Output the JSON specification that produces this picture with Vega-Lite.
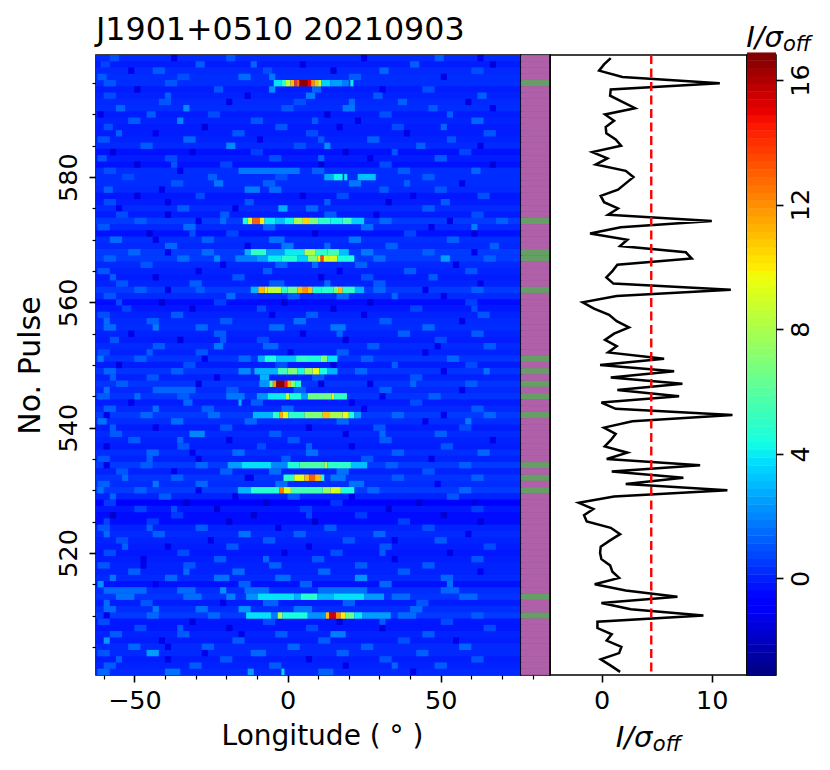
{
"$schema":"https://vega.github.io/schema/vega-lite/v6.json",
"background":"white",
"padding":{"left":14,"top":14,"right":5,"bottom":5},
"spacing":0,
"bounds":"flush",
"config":{"font":"DejaVu Sans","view":{"stroke":"black","strokeWidth":1.6},"axis":{"domain":false,"grid":false,"labelFontSize":25.5,"titleFontSize":28,"labelColor":"black","titleColor":"black","tickColor":"black","titleFontWeight":"normal"}},
"hconcat":[
{"width":425,"height":620,"view":{"fill":"#0028ff"},
"title":{"text":"J1901+0510 20210903","anchor":"start","frame":"group","fontSize":31.7,"fontWeight":"normal","color":"black","offset":8},
"resolve":{"axis":{"y":"independent"}},
"layer":[
{"data":{"values":[{"p":599,"v":0.5},{"p":598,"v":0.3},{"p":597,"v":0.5},{"p":596,"v":0.6},{"p":595,"v":0.6},{"p":594,"v":0.3},{"p":593,"v":0.4},{"p":592,"v":0.5},{"p":591,"v":0.6},{"p":590,"v":0.3},{"p":589,"v":0.4},{"p":588,"v":0.3},{"p":587,"v":0.3},{"p":586,"v":0.4},{"p":585,"v":0.5},{"p":584,"v":0.1},{"p":583,"v":0.3},{"p":582,"v":0.1},{"p":581,"v":0.6},{"p":580,"v":0.6},{"p":579,"v":0.6},{"p":578,"v":0.5},{"p":577,"v":0.2},{"p":576,"v":0.3},{"p":575,"v":0.5},{"p":574,"v":0.3},{"p":573,"v":0.8},{"p":572,"v":0.5},{"p":571,"v":0.1},{"p":570,"v":0.6},{"p":569,"v":0.5},{"p":568,"v":0.8},{"p":567,"v":0.8},{"p":566,"v":0.5},{"p":565,"v":0.4},{"p":564,"v":0.3},{"p":563,"v":0.4},{"p":562,"v":0.8},{"p":561,"v":0.5},{"p":560,"v":0.0},{"p":559,"v":0.2},{"p":558,"v":0.4},{"p":557,"v":0.5},{"p":556,"v":0.6},{"p":555,"v":0.4},{"p":554,"v":0.3},{"p":553,"v":0.5},{"p":552,"v":0.4},{"p":551,"v":0.7},{"p":550,"v":0.3},{"p":549,"v":0.7},{"p":548,"v":0.4},{"p":547,"v":0.7},{"p":546,"v":0.5},{"p":545,"v":0.7},{"p":544,"v":0.3},{"p":543,"v":0.5},{"p":542,"v":0.8},{"p":541,"v":0.6},{"p":540,"v":0.3},{"p":539,"v":0.5},{"p":538,"v":0.4},{"p":537,"v":0.3},{"p":536,"v":0.6},{"p":535,"v":0.4},{"p":534,"v":0.8},{"p":533,"v":0.4},{"p":532,"v":0.7},{"p":531,"v":0.6},{"p":530,"v":0.8},{"p":529,"v":0.4},{"p":528,"v":-0.2},{"p":527,"v":0.2},{"p":526,"v":0.0},{"p":525,"v":0.0},{"p":524,"v":0.4},{"p":523,"v":0.5},{"p":522,"v":0.4},{"p":521,"v":0.3},{"p":520,"v":0.2},{"p":519,"v":0.3},{"p":518,"v":0.4},{"p":517,"v":0.4},{"p":516,"v":0.5},{"p":515,"v":0.1},{"p":514,"v":0.6},{"p":513,"v":0.7},{"p":512,"v":0.3},{"p":511,"v":0.6},{"p":510,"v":0.8},{"p":509,"v":0.2},{"p":508,"v":0.2},{"p":507,"v":0.4},{"p":506,"v":0.3},{"p":505,"v":0.5},{"p":504,"v":0.5},{"p":503,"v":0.3},{"p":502,"v":0.4},{"p":501,"v":0.5}]},
"mark":{"type":"rule","strokeWidth":6.4},
"encoding":{
"y":{"field":"p","type":"quantitative","scale":{"domain":[500.5,599.5],"nice":false,"zero":false},"axis":null},
"color":{"field":"v","type":"quantitative","legend":null,"scale":{"domain":[-3.1,-0.6,-0.2,3.67,4.36,9.64,10.03,14.61,15.01,16.8],"range":["#000080","#0000ff","#0000ff","#00dbff","#14ffe2","#eeff08","#ffec00","#ff1200","#e80000","#800000"],"interpolate":"rgb"}}}},
{"data":{"values":[
{"p":599,"a":-58,"b":-55,"v":1.2},{"p":599,"a":-38,"b":-36,"v":-1.2},{"p":599,"a":-20,"b":-17,"v":1.3},{"p":599,"a":24,"b":26,"v":-1.1},{"p":599,"a":48,"b":51,"v":1.4},{"p":599,"a":62,"b":64,"v":-1},
{"p":598,"a":-61,"b":-58,"v":1},{"p":598,"a":-30,"b":-27,"v":1.4},{"p":598,"a":4,"b":6,"v":-1.2},{"p":598,"a":40,"b":43,"v":1.5},{"p":598,"a":66,"b":68,"v":-1.3},{"p":598,"a":-12,"b":-10,"v":1.6},
{"p":597,"a":-44,"b":-40,"v":1.4},{"p":597,"a":-8,"b":-5,"v":1.2},{"p":597,"a":14,"b":16,"v":-1.3},{"p":597,"a":30,"b":33,"v":1.6},{"p":597,"a":60,"b":64,"v":1.2},{"p":597,"a":-52,"b":-50,"v":-1},
{"p":596,"a":-62,"b":-59,"v":1.4},{"p":596,"a":-36,"b":-32,"v":1.2},{"p":596,"a":-16,"b":-12,"v":1.7},{"p":596,"a":20,"b":24,"v":1.4},{"p":596,"a":50,"b":52,"v":-1.1},{"p":596,"a":-6,"b":-4,"v":1.9},
{"p":594,"a":-50,"b":-48,"v":-1.3},{"p":594,"a":-24,"b":-21,"v":1.3},{"p":594,"a":-6,"b":-4,"v":2.4},{"p":594,"a":8,"b":11,"v":1.6},{"p":594,"a":44,"b":48,"v":1.2},{"p":594,"a":30,"b":32,"v":-1},
{"p":593,"a":-60,"b":-56,"v":1.1},{"p":593,"a":-14,"b":-12,"v":-1.1},{"p":593,"a":6,"b":9,"v":2},{"p":593,"a":28,"b":31,"v":1.4},{"p":593,"a":62,"b":65,"v":1.5},{"p":593,"a":-40,"b":-38,"v":1.5},
{"p":592,"a":-42,"b":-38,"v":1.3},{"p":592,"a":-20,"b":-18,"v":-1.2},{"p":592,"a":2,"b":6,"v":1.2},{"p":592,"a":36,"b":39,"v":1.5},{"p":592,"a":58,"b":60,"v":-1.3},{"p":592,"a":20,"b":22,"v":1.7},
{"p":591,"a":-56,"b":-53,"v":1.6},{"p":591,"a":-34,"b":-32,"v":2.3},{"p":591,"a":-2,"b":2,"v":1.3},{"p":591,"a":18,"b":22,"v":1.9},{"p":591,"a":46,"b":49,"v":1.4},{"p":591,"a":66,"b":68,"v":-1},
{"p":590,"a":-62,"b":-60,"v":-1.1},{"p":590,"a":-46,"b":-43,"v":1.4},{"p":590,"a":-26,"b":-22,"v":1.1},{"p":590,"a":12,"b":14,"v":-1.3},{"p":590,"a":30,"b":34,"v":1.2},{"p":590,"a":52,"b":54,"v":1.5},
{"p":589,"a":-52,"b":-48,"v":1.4},{"p":589,"a":-36,"b":-34,"v":2.2},{"p":589,"a":-12,"b":-8,"v":1.3},{"p":589,"a":22,"b":24,"v":-1.2},{"p":589,"a":60,"b":64,"v":1.6},{"p":589,"a":8,"b":10,"v":1.4},
{"p":588,"a":-60,"b":-57,"v":1.2},{"p":588,"a":-28,"b":-26,"v":-1.3},{"p":588,"a":-4,"b":0,"v":1.3},{"p":588,"a":16,"b":18,"v":-1.1},{"p":588,"a":34,"b":38,"v":1.1},{"p":588,"a":50,"b":52,"v":1.6},
{"p":587,"a":-44,"b":-42,"v":-1},{"p":587,"a":-18,"b":-14,"v":1.3},{"p":587,"a":6,"b":10,"v":1.1},{"p":587,"a":38,"b":40,"v":-1.2},{"p":587,"a":64,"b":68,"v":1.3},{"p":587,"a":-56,"b":-54,"v":1.5},
{"p":586,"a":-62,"b":-58,"v":1.3},{"p":586,"a":-34,"b":-30,"v":1.6},{"p":586,"a":-10,"b":-8,"v":-1},{"p":586,"a":26,"b":30,"v":1.5},{"p":586,"a":52,"b":55,"v":1.3},{"p":586,"a":10,"b":12,"v":1.4},
{"p":585,"a":-48,"b":-44,"v":1.4},{"p":585,"a":-20,"b":-17,"v":2.2},{"p":585,"a":2,"b":6,"v":1.2},{"p":585,"a":12,"b":14,"v":2.3},{"p":585,"a":42,"b":45,"v":1.5},{"p":585,"a":62,"b":64,"v":-1},
{"p":584,"a":-58,"b":-56,"v":-1.4},{"p":584,"a":-32,"b":-30,"v":-1.2},{"p":584,"a":-12,"b":-8,"v":0.9},{"p":584,"a":18,"b":20,"v":-1.4},{"p":584,"a":56,"b":60,"v":1},{"p":584,"a":34,"b":36,"v":1.3},
{"p":583,"a":-62,"b":-59,"v":1.3},{"p":583,"a":-40,"b":-36,"v":1.1},{"p":583,"a":-6,"b":-2,"v":1.2},{"p":583,"a":26,"b":28,"v":-1.1},{"p":583,"a":48,"b":52,"v":1.4},{"p":583,"a":10,"b":12,"v":1.6},
{"p":582,"a":-50,"b":-48,"v":-1.4},{"p":582,"a":-22,"b":-18,"v":1},{"p":582,"a":10,"b":12,"v":-1.3},{"p":582,"a":30,"b":34,"v":1.1},{"p":582,"a":66,"b":68,"v":-1.3},{"p":582,"a":-38,"b":-36,"v":1.3},
{"p":581,"a":-60,"b":-56,"v":1.2},{"p":581,"a":-16,"b":4,"v":1.9},{"p":581,"a":8,"b":12,"v":1.5},{"p":581,"a":36,"b":40,"v":1.4},{"p":581,"a":60,"b":63,"v":1.6},{"p":581,"a":-36,"b":-34,"v":-1},
{"p":580,"a":-54,"b":-50,"v":1.1},{"p":580,"a":-26,"b":-23,"v":1.5},{"p":580,"a":-4,"b":0,"v":1.2},{"p":580,"a":12,"b":15,"v":2.8},{"p":580,"a":15,"b":18,"v":4.2},{"p":580,"a":18.5,"b":19.5,"v":4},{"p":580,"a":22.9,"b":28.8,"v":3.2},{"p":580,"a":44,"b":48,"v":1.4},
{"p":579,"a":-38,"b":-34,"v":1.3},{"p":579,"a":-24,"b":-21,"v":1.9},{"p":579,"a":-8,"b":-4,"v":1.5},{"p":579,"a":20,"b":24,"v":1.9},{"p":579,"a":56,"b":58,"v":-1},{"p":579,"a":38,"b":40,"v":1.5},
{"p":578,"a":-60,"b":-57,"v":1.5},{"p":578,"a":-14,"b":-9,"v":2},{"p":578,"a":-6,"b":-2,"v":1.7},{"p":578,"a":30,"b":33,"v":1.4},{"p":578,"a":48,"b":52,"v":1.3},{"p":578,"a":-42,"b":-40,"v":-1},
{"p":577,"a":-50,"b":-48,"v":-1.3},{"p":577,"a":-30,"b":-27,"v":1.1},{"p":577,"a":4,"b":6,"v":-1.2},{"p":577,"a":16,"b":20,"v":1.1},{"p":577,"a":62,"b":66,"v":1.2},{"p":577,"a":40,"b":42,"v":-1},
{"p":576,"a":-60,"b":-56,"v":1.1},{"p":576,"a":-40,"b":-38,"v":-1.2},{"p":576,"a":-14,"b":-11,"v":1.3},{"p":576,"a":32,"b":34,"v":-1.3},{"p":576,"a":50,"b":53,"v":1.4},{"p":576,"a":12,"b":14,"v":1.5},
{"p":575,"a":-36,"b":-32,"v":1.4},{"p":575,"a":-18,"b":-16,"v":-1.1},{"p":575,"a":-3,"b":0,"v":2.8},{"p":575,"a":6,"b":10,"v":1.6},{"p":575,"a":44,"b":48,"v":1.4},{"p":575,"a":-56,"b":-54,"v":-1},
{"p":574,"a":-56,"b":-52,"v":1.1},{"p":574,"a":-22,"b":-19,"v":1.4},{"p":574,"a":12,"b":16,"v":1.4},{"p":574,"a":28,"b":30,"v":-1.1},{"p":574,"a":60,"b":64,"v":1.2},{"p":574,"a":-40,"b":-38,"v":-1.2},
{"p":573,"a":-50,"b":-46,"v":1.4},{"p":573,"a":-30,"b":-28,"v":-0.9},{"p":573,"a":30,"b":34,"v":1.6},{"p":573,"a":52,"b":54,"v":-1.1},{"p":573,"a":68,"b":72,"v":1.5},{"p":573,"a":-22,"b":-20,"v":1.7},
{"p":572,"a":-62,"b":-58,"v":1.3},{"p":572,"a":-34,"b":-30,"v":1.7},{"p":572,"a":-8,"b":-4,"v":1.5},{"p":572,"a":24,"b":28,"v":1.7},{"p":572,"a":46,"b":48,"v":-1},{"p":572,"a":60,"b":62,"v":2},
{"p":571,"a":-46,"b":-44,"v":-1.4},{"p":571,"a":-20,"b":-16,"v":1},{"p":571,"a":8,"b":10,"v":-1.3},{"p":571,"a":38,"b":42,"v":1},{"p":571,"a":60,"b":62,"v":-1.4},{"p":571,"a":-32,"b":-30,"v":1.2},
{"p":570,"a":-58,"b":-54,"v":1.7},{"p":570,"a":-28,"b":-24,"v":1.5},{"p":570,"a":-6,"b":-1,"v":1.8},{"p":570,"a":20,"b":24,"v":1.9},{"p":570,"a":52,"b":56,"v":1.5},{"p":570,"a":-44,"b":-42,"v":-1},
{"p":569,"a":-40,"b":-36,"v":1.6},{"p":569,"a":-14,"b":-12,"v":-1},{"p":569,"a":-2,"b":2,"v":1.9},{"p":569,"a":32,"b":36,"v":1.5},{"p":569,"a":66,"b":69,"v":1.5},{"p":569,"a":12,"b":14,"v":1.7},
{"p":568,"a":-52,"b":-48,"v":1.6},{"p":568,"a":-28,"b":-24,"v":1.7},{"p":568,"a":24,"b":28,"v":1.9},{"p":568,"a":44,"b":48,"v":1.5},{"p":568,"a":60,"b":62,"v":-0.9},{"p":568,"a":-40,"b":-38,"v":-1},
{"p":567,"a":-60,"b":-56,"v":1.5},{"p":567,"a":-36,"b":-32,"v":1.7},{"p":567,"a":28,"b":32,"v":1.7},{"p":567,"a":50,"b":53,"v":2.6},{"p":567,"a":64,"b":68,"v":1.5},{"p":567,"a":-24,"b":-22,"v":2.2},
{"p":566,"a":-48,"b":-44,"v":1.3},{"p":566,"a":-22,"b":-20,"v":-1},{"p":566,"a":-4,"b":0,"v":1.5},{"p":566,"a":22,"b":26,"v":1.5},{"p":566,"a":54,"b":56,"v":-1.1},{"p":566,"a":8,"b":10,"v":1.7},
{"p":565,"a":-62,"b":-58,"v":1.3},{"p":565,"a":-30,"b":-28,"v":-1.1},{"p":565,"a":-8,"b":-5,"v":1.4},{"p":565,"a":38,"b":42,"v":1.4},{"p":565,"a":58,"b":62,"v":1.3},{"p":565,"a":16,"b":18,"v":-1},
{"p":564,"a":-44,"b":-42,"v":-1.2},{"p":564,"a":-18,"b":-14,"v":1.3},{"p":564,"a":10,"b":12,"v":-1.2},{"p":564,"a":24,"b":28,"v":1.2},{"p":564,"a":46,"b":49,"v":1.4},{"p":564,"a":-58,"b":-56,"v":1.5},
{"p":563,"a":-56,"b":-52,"v":1.3},{"p":563,"a":-32,"b":-28,"v":1.5},{"p":563,"a":-6,"b":-1,"v":1.4},{"p":563,"a":28,"b":32,"v":1.4},{"p":563,"a":62,"b":64,"v":-1.1},{"p":563,"a":12,"b":14,"v":1.7},
{"p":562,"a":-50,"b":-46,"v":1.5},{"p":562,"a":-30,"b":-27,"v":1.4},{"p":562,"a":28,"b":32,"v":1.6},{"p":562,"a":44,"b":46,"v":-0.9},{"p":562,"a":60,"b":64,"v":1.5},{"p":562,"a":-40,"b":-38,"v":-1},
{"p":561,"a":-60,"b":-56,"v":1.3},{"p":561,"a":-20,"b":-17,"v":1.7},{"p":561,"a":0,"b":4,"v":1.4},{"p":561,"a":16,"b":20,"v":1.6},{"p":561,"a":50,"b":52,"v":-1},{"p":561,"a":34,"b":36,"v":1.6},
{"p":560,"a":-42,"b":-40,"v":-1.5},{"p":560,"a":-24,"b":-20,"v":0.9},{"p":560,"a":-2,"b":0,"v":-1.5},{"p":560,"a":26,"b":28,"v":-1.4},{"p":560,"a":58,"b":62,"v":0.9},{"p":560,"a":-56,"b":-54,"v":1.1},
{"p":559,"a":-54,"b":-51,"v":1},{"p":559,"a":-32,"b":-30,"v":-1.3},{"p":559,"a":-10,"b":-7,"v":1.1},{"p":559,"a":14,"b":16,"v":-1.3},{"p":559,"a":40,"b":44,"v":1},{"p":559,"a":60,"b":62,"v":1.2},
{"p":558,"a":-62,"b":-58,"v":1.2},{"p":558,"a":-38,"b":-34,"v":1.4},{"p":558,"a":-6,"b":-4,"v":-1},{"p":558,"a":6,"b":10,"v":1.4},{"p":558,"a":62,"b":66,"v":1.3},{"p":558,"a":24,"b":26,"v":-1},
{"p":557,"a":-46,"b":-42,"v":1.5},{"p":557,"a":-22,"b":-18,"v":1.4},{"p":557,"a":2,"b":6,"v":1.8},{"p":557,"a":30,"b":34,"v":1.4},{"p":557,"a":56,"b":58,"v":-1},{"p":557,"a":-60,"b":-58,"v":1.7},
{"p":556,"a":-60,"b":-56,"v":1.7},{"p":556,"a":-30,"b":-26,"v":1.6},{"p":556,"a":-6,"b":-1,"v":1.7},{"p":556,"a":14,"b":19,"v":1.9},{"p":556,"a":44,"b":48,"v":1.6},{"p":556,"a":-44,"b":-42,"v":2},
{"p":555,"a":-52,"b":-50,"v":-1.1},{"p":555,"a":-24,"b":-20,"v":1.4},{"p":555,"a":4,"b":6,"v":-1.1},{"p":555,"a":36,"b":40,"v":1.5},{"p":555,"a":60,"b":64,"v":1.4},{"p":555,"a":16,"b":18,"v":1.6},
{"p":554,"a":-58,"b":-55,"v":1.3},{"p":554,"a":-36,"b":-34,"v":-1.3},{"p":554,"a":-10,"b":-6,"v":1.1},{"p":554,"a":18,"b":20,"v":-1.3},{"p":554,"a":48,"b":52,"v":1.1},{"p":554,"a":-22,"b":-20,"v":1.4},
{"p":553,"a":-44,"b":-40,"v":1.4},{"p":553,"a":-24,"b":-21,"v":1.9},{"p":553,"a":-8,"b":-3,"v":1.6},{"p":553,"a":26,"b":30,"v":1.4},{"p":553,"a":64,"b":68,"v":1.4},{"p":553,"a":48,"b":50,"v":-1},
{"p":552,"a":-62,"b":-58,"v":1.1},{"p":552,"a":-30,"b":-26,"v":1.3},{"p":552,"a":0,"b":2,"v":-1},{"p":552,"a":16,"b":20,"v":1.4},{"p":552,"a":44,"b":46,"v":-1.1},{"p":552,"a":-46,"b":-44,"v":1.5},
{"p":551,"a":-50,"b":-46,"v":1.5},{"p":551,"a":-28,"b":-26,"v":-0.9},{"p":551,"a":-16,"b":-12,"v":1.6},{"p":551,"a":24,"b":28,"v":1.5},{"p":551,"a":52,"b":56,"v":1.6},{"p":551,"a":-62,"b":-60,"v":1.9},
{"p":550,"a":-56,"b":-54,"v":-1.2},{"p":550,"a":-34,"b":-30,"v":1.2},{"p":550,"a":-4,"b":0,"v":1.2},{"p":550,"a":14,"b":16,"v":-1.2},{"p":550,"a":58,"b":62,"v":1.1},{"p":550,"a":34,"b":36,"v":1.5},
{"p":549,"a":-60,"b":-56,"v":1.6},{"p":549,"a":-38,"b":-34,"v":1.5},{"p":549,"a":-16,"b":-12,"v":2.2},{"p":549,"a":22,"b":26,"v":1.6},{"p":549,"a":50,"b":52,"v":-1},{"p":549,"a":64,"b":66,"v":1.8},
{"p":548,"a":-46,"b":-42,"v":1.3},{"p":548,"a":-24,"b":-22,"v":-1},{"p":548,"a":-9,"b":-6,"v":3},{"p":548,"a":8,"b":12,"v":1.3},{"p":548,"a":40,"b":44,"v":1.3},{"p":548,"a":-58,"b":-56,"v":1.5},
{"p":547,"a":-56,"b":-52,"v":1.4},{"p":547,"a":-30,"b":-28,"v":-1.2},{"p":547,"a":10,"b":12,"v":-1.2},{"p":547,"a":26,"b":28,"v":-1.1},{"p":547,"a":58,"b":62,"v":1.4},{"p":547,"a":40,"b":42,"v":1.6},
{"p":546,"a":-44,"b":-30,"v":1.6},{"p":546,"a":-20,"b":-16,"v":1.4},{"p":546,"a":2,"b":6,"v":1.5},{"p":546,"a":30,"b":34,"v":1.5},{"p":546,"a":56,"b":58,"v":-1},{"p":546,"a":-60,"b":-58,"v":1.8},
{"p":545,"a":-62,"b":-58,"v":1.4},{"p":545,"a":-36,"b":-32,"v":1.4},{"p":545,"a":-20,"b":-14,"v":1.9},{"p":545,"a":30,"b":32,"v":-0.9},{"p":545,"a":46,"b":50,"v":1.5},{"p":545,"a":-50,"b":-48,"v":1.7},
{"p":544,"a":-52,"b":-50,"v":-1},{"p":544,"a":-34,"b":-31,"v":1.6},{"p":544,"a":-12,"b":-8,"v":1.4},{"p":544,"a":-16,"b":-15,"v":3},{"p":544,"a":40,"b":44,"v":1.1},{"p":544,"a":20,"b":22,"v":-1},
{"p":543,"a":-60,"b":-56,"v":1.5},{"p":543,"a":-28,"b":-24,"v":1.5},{"p":543,"a":-2,"b":2,"v":1.6},{"p":543,"a":24,"b":26,"v":-0.9},{"p":543,"a":60,"b":64,"v":1.4},{"p":543,"a":-44,"b":-42,"v":1.8},
{"p":542,"a":-48,"b":-44,"v":1.6},{"p":542,"a":-26,"b":-22,"v":1.7},{"p":542,"a":34,"b":38,"v":1.6},{"p":542,"a":50,"b":52,"v":-0.9},{"p":542,"a":64,"b":68,"v":1.6},{"p":542,"a":-60,"b":-58,"v":-1},
{"p":541,"a":-62,"b":-59,"v":1.8},{"p":541,"a":-38,"b":-34,"v":1.7},{"p":541,"a":-14,"b":-10,"v":1.6},{"p":541,"a":16,"b":20,"v":1.6},{"p":541,"a":44,"b":46,"v":-1},{"p":541,"a":58,"b":60,"v":2},
{"p":540,"a":-44,"b":-42,"v":-1.1},{"p":540,"a":-22,"b":-18,"v":1.3},{"p":540,"a":6,"b":8,"v":-1.2},{"p":540,"a":28,"b":32,"v":1.3},{"p":540,"a":56,"b":60,"v":1.1},{"p":540,"a":-58,"b":-56,"v":1.5},
{"p":539,"a":-58,"b":-54,"v":1.4},{"p":539,"a":-32,"b":-27,"v":2.2},{"p":539,"a":-6,"b":-2,"v":1.4},{"p":539,"a":18,"b":20,"v":-1.1},{"p":539,"a":48,"b":52,"v":1.5},{"p":539,"a":30,"b":32,"v":1.7},
{"p":538,"a":-52,"b":-48,"v":1.4},{"p":538,"a":-20,"b":-18,"v":-1.1},{"p":538,"a":0,"b":4,"v":1.3},{"p":538,"a":30,"b":34,"v":1.4},{"p":538,"a":66,"b":68,"v":-1.1},{"p":538,"a":-36,"b":-34,"v":1.6},
{"p":537,"a":-60,"b":-58,"v":-1.2},{"p":537,"a":-36,"b":-32,"v":1.3},{"p":537,"a":-10,"b":-7,"v":1.1},{"p":537,"a":20,"b":22,"v":-1.1},{"p":537,"a":50,"b":54,"v":1.3},{"p":537,"a":6,"b":8,"v":1.5},
{"p":536,"a":-46,"b":-42,"v":1.6},{"p":536,"a":-18,"b":-14,"v":1.7},{"p":536,"a":6,"b":10,"v":1.8},{"p":536,"a":34,"b":38,"v":1.5},{"p":536,"a":62,"b":66,"v":1.6},{"p":536,"a":-32,"b":-30,"v":-0.9},
{"p":535,"a":-62,"b":-58,"v":1.3},{"p":535,"a":-30,"b":-28,"v":-1},{"p":535,"a":-2,"b":1,"v":1.4},{"p":535,"a":24,"b":28,"v":1.3},{"p":535,"a":46,"b":48,"v":-1.1},{"p":535,"a":-46,"b":-44,"v":1.5},
{"p":534,"a":-48,"b":-44,"v":1.4},{"p":534,"a":-30,"b":-26,"v":1.6},{"p":534,"a":32,"b":36,"v":1.5},{"p":534,"a":56,"b":60,"v":1.5},{"p":534,"a":-60,"b":-58,"v":-1},
{"p":533,"a":-56,"b":-52,"v":1.3},{"p":533,"a":-22,"b":-18,"v":1.5},{"p":533,"a":-6,"b":-2,"v":1.7},{"p":533,"a":16,"b":20,"v":1.8},{"p":533,"a":44,"b":48,"v":1.3},{"p":533,"a":-38,"b":-36,"v":-1},
{"p":532,"a":-38,"b":-34,"v":1.5},{"p":532,"a":-14,"b":-11,"v":-1},{"p":532,"a":14,"b":19,"v":1.9},{"p":532,"a":34,"b":38,"v":1.4},{"p":532,"a":60,"b":64,"v":1.5},{"p":532,"a":-54,"b":-52,"v":1.7},
{"p":531,"a":-62,"b":-58,"v":1.5},{"p":531,"a":-30,"b":-26,"v":1.6},{"p":531,"a":-4,"b":0,"v":1.7},{"p":531,"a":20,"b":25,"v":1.8},{"p":531,"a":48,"b":50,"v":-0.8},{"p":531,"a":-44,"b":-42,"v":1.9},
{"p":530,"a":-50,"b":-46,"v":1.5},{"p":530,"a":-30,"b":-28,"v":-0.9},{"p":530,"a":26,"b":30,"v":1.6},{"p":530,"a":56,"b":60,"v":1.6},{"p":530,"a":-62,"b":-60,"v":1.8},
{"p":529,"a":-42,"b":-38,"v":1.4},{"p":529,"a":-18,"b":-16,"v":-1},{"p":529,"a":0,"b":4,"v":1.4},{"p":529,"a":20,"b":22,"v":-1.1},{"p":529,"a":52,"b":56,"v":1.3},{"p":529,"a":-58,"b":-56,"v":1.6},
{"p":528,"a":-60,"b":-56,"v":0.8},{"p":528,"a":-34,"b":-32,"v":-1.6},{"p":528,"a":-8,"b":-6,"v":-1.5},{"p":528,"a":14,"b":18,"v":0.7},{"p":528,"a":42,"b":44,"v":-1.5},{"p":528,"a":60,"b":62,"v":-1.2},
{"p":527,"a":-50,"b":-46,"v":1},{"p":527,"a":-24,"b":-22,"v":-1.4},{"p":527,"a":4,"b":8,"v":0.9},{"p":527,"a":32,"b":34,"v":-1.4},{"p":527,"a":60,"b":64,"v":0.9},{"p":527,"a":-38,"b":-36,"v":1.2},
{"p":526,"a":-58,"b":-56,"v":-1.6},{"p":526,"a":-38,"b":-34,"v":0.8},{"p":526,"a":-12,"b":-10,"v":-1.5},{"p":526,"a":22,"b":26,"v":0.8},{"p":526,"a":50,"b":52,"v":-1.5},{"p":526,"a":6,"b":8,"v":1},
{"p":525,"a":-46,"b":-42,"v":0.8},{"p":525,"a":-20,"b":-18,"v":-1.5},{"p":525,"a":8,"b":10,"v":-1.6},{"p":525,"a":36,"b":40,"v":0.9},{"p":525,"a":62,"b":64,"v":-1.4},{"p":525,"a":-60,"b":-58,"v":1},
{"p":524,"a":-62,"b":-58,"v":1.3},{"p":524,"a":-30,"b":-26,"v":1.4},{"p":524,"a":-4,"b":-2,"v":-1.1},{"p":524,"a":12,"b":16,"v":1.4},{"p":524,"a":44,"b":48,"v":1.2},{"p":524,"a":-46,"b":-44,"v":1.5},
{"p":523,"a":-44,"b":-40,"v":1.5},{"p":523,"a":-16,"b":-12,"v":1.8},{"p":523,"a":2,"b":6,"v":1.5},{"p":523,"a":28,"b":32,"v":1.6},{"p":523,"a":58,"b":60,"v":-0.9},{"p":523,"a":-60,"b":-58,"v":1.7},
{"p":522,"a":-56,"b":-52,"v":1.2},{"p":522,"a":-26,"b":-24,"v":-1.1},{"p":522,"a":-8,"b":-4,"v":1.4},{"p":522,"a":18,"b":22,"v":1.3},{"p":522,"a":48,"b":52,"v":1.4},{"p":522,"a":34,"b":36,"v":-1},
{"p":521,"a":-40,"b":-38,"v":-1.1},{"p":521,"a":-20,"b":-16,"v":1.3},{"p":521,"a":6,"b":8,"v":-1.2},{"p":521,"a":30,"b":34,"v":1.3},{"p":521,"a":64,"b":68,"v":1.1},{"p":521,"a":-54,"b":-52,"v":1.5},
{"p":520,"a":-60,"b":-56,"v":1.1},{"p":520,"a":-36,"b":-32,"v":1.1},{"p":520,"a":-2,"b":0,"v":-1.2},{"p":520,"a":14,"b":18,"v":1.2},{"p":520,"a":52,"b":54,"v":-1.2},{"p":520,"a":30,"b":32,"v":1.4},
{"p":519,"a":-48,"b":-46,"v":-1.1},{"p":519,"a":-24,"b":-20,"v":1.4},{"p":519,"a":8,"b":12,"v":1.3},{"p":519,"a":34,"b":36,"v":-1.1},{"p":519,"a":60,"b":64,"v":1.3},{"p":519,"a":-8,"b":-6,"v":1.6},
{"p":518,"a":-62,"b":-58,"v":1.3},{"p":518,"a":-34,"b":-30,"v":1.3},{"p":518,"a":-6,"b":-2,"v":1.5},{"p":518,"a":22,"b":26,"v":1.4},{"p":518,"a":44,"b":48,"v":1.4},{"p":518,"a":-48,"b":-46,"v":-1},
{"p":517,"a":-52,"b":-48,"v":1.5},{"p":517,"a":-18,"b":-14,"v":1.7},{"p":517,"a":10,"b":14,"v":1.6},{"p":517,"a":36,"b":40,"v":1.4},{"p":517,"a":62,"b":64,"v":-0.9},{"p":517,"a":-34,"b":-32,"v":1.7},
{"p":516,"a":-40,"b":-36,"v":1.6},{"p":516,"a":-24,"b":-19,"v":1.8},{"p":516,"a":-4,"b":1,"v":1.7},{"p":516,"a":22,"b":26,"v":2.4},{"p":516,"a":50,"b":54,"v":1.6},{"p":516,"a":-58,"b":-56,"v":1.9},
{"p":515,"a":-62,"b":-60,"v":2.4},{"p":515,"a":-44,"b":-42,"v":-0.9},{"p":515,"a":-16,"b":-12,"v":1.5},{"p":515,"a":4,"b":8,"v":1.5},{"p":515,"a":30,"b":34,"v":1.6},{"p":515,"a":52,"b":54,"v":1.8},
{"p":514,"a":-60,"b":-46,"v":1.7},{"p":514,"a":-36,"b":-30,"v":1.7},{"p":514,"a":-14,"b":-6,"v":1.8},{"p":514,"a":10,"b":26,"v":1.8},{"p":514,"a":50,"b":56,"v":1.6},{"p":514,"a":-22,"b":-20,"v":2.4},
{"p":513,"a":-56,"b":-50,"v":1.8},{"p":513,"a":-34,"b":-28,"v":1.7},{"p":513,"a":34,"b":40,"v":1.7},{"p":513,"a":56,"b":62,"v":1.6},{"p":513,"a":-20,"b":-17,"v":2},
{"p":512,"a":-48,"b":-44,"v":1.3},{"p":512,"a":-22,"b":-20,"v":-1},{"p":512,"a":-8,"b":-3,"v":1.5},{"p":512,"a":18,"b":22,"v":1.5},{"p":512,"a":42,"b":46,"v":1.3},{"p":512,"a":-60,"b":-58,"v":1.7},
{"p":511,"a":-60,"b":-56,"v":1.7},{"p":511,"a":-30,"b":-26,"v":1.8},{"p":511,"a":-16,"b":-12,"v":2.4},{"p":511,"a":2,"b":8,"v":1.9},{"p":511,"a":40,"b":44,"v":1.7},{"p":511,"a":-44,"b":-42,"v":2},
{"p":510,"a":-46,"b":-42,"v":1.6},{"p":510,"a":-26,"b":-22,"v":1.6},{"p":510,"a":36,"b":42,"v":1.7},{"p":510,"a":60,"b":64,"v":1.4},{"p":510,"a":-60,"b":-58,"v":-1},
{"p":509,"a":-62,"b":-58,"v":1.1},{"p":509,"a":-32,"b":-30,"v":-1.3},{"p":509,"a":-8,"b":-4,"v":1.1},{"p":509,"a":16,"b":18,"v":-1.2},{"p":509,"a":50,"b":54,"v":1.1},{"p":509,"a":30,"b":32,"v":1.4},
{"p":508,"a":-50,"b":-46,"v":1.1},{"p":508,"a":-20,"b":-18,"v":-1.2},{"p":508,"a":6,"b":10,"v":1.1},{"p":508,"a":30,"b":32,"v":-1.3},{"p":508,"a":64,"b":68,"v":1.1},{"p":508,"a":-36,"b":-34,"v":1.4},
{"p":507,"a":-58,"b":-54,"v":1.4},{"p":507,"a":-36,"b":-32,"v":1.4},{"p":507,"a":-4,"b":0,"v":1.4},{"p":507,"a":14,"b":19,"v":2},{"p":507,"a":44,"b":48,"v":1.4},{"p":507,"a":-16,"b":-14,"v":-1},
{"p":506,"a":-60,"b":-58,"v":2.5},{"p":506,"a":-42,"b":-40,"v":-1},{"p":506,"a":-18,"b":-14,"v":1.4},{"p":506,"a":10,"b":14,"v":1.4},{"p":506,"a":36,"b":40,"v":1.2},{"p":506,"a":54,"b":56,"v":-1},
{"p":505,"a":-52,"b":-48,"v":1.6},{"p":505,"a":-28,"b":-24,"v":1.5},{"p":505,"a":0,"b":4,"v":1.6},{"p":505,"a":24,"b":28,"v":1.5},{"p":505,"a":56,"b":60,"v":1.6},{"p":505,"a":-40,"b":-38,"v":-1},
{"p":504,"a":-62,"b":-58,"v":1.3},{"p":504,"a":-46,"b":-42,"v":2.6},{"p":504,"a":-12,"b":-7,"v":1.6},{"p":504,"a":16,"b":20,"v":1.5},{"p":504,"a":42,"b":46,"v":1.5},{"p":504,"a":-28,"b":-26,"v":-1},
{"p":503,"a":-40,"b":-38,"v":-1.1},{"p":503,"a":-22,"b":-18,"v":1.3},{"p":503,"a":6,"b":8,"v":-1.2},{"p":503,"a":30,"b":34,"v":1.3},{"p":503,"a":60,"b":64,"v":1.3},{"p":503,"a":-56,"b":-54,"v":1.5},
{"p":502,"a":-60,"b":-56,"v":1.4},{"p":502,"a":-32,"b":-28,"v":1.4},{"p":502,"a":-6,"b":-2,"v":1.4},{"p":502,"a":18,"b":20,"v":-1.1},{"p":502,"a":48,"b":52,"v":1.4},{"p":502,"a":34,"b":36,"v":1.6},
{"p":501,"a":-62,"b":-58,"v":1.6},{"p":501,"a":-40,"b":-35,"v":1.8},{"p":501,"a":-13,"b":-11,"v":2.6},{"p":501,"a":-2,"b":-1,"v":3.6},{"p":501,"a":10,"b":15,"v":1.5},{"p":501,"a":40,"b":42,"v":-1},
{"p":595,"a":-60,"b":-56,"v":1.3},{"p":595,"a":-40,"b":-36,"v":1.3},{"p":595,"a":-4.5,"b":-2,"v":3.8},{"p":595,"a":-2,"b":-0.5,"v":5},{"p":595,"a":-0.5,"b":1,"v":8.5},{"p":595,"a":1,"b":2.2,"v":11},{"p":595,"a":2.2,"b":3,"v":14},{"p":595,"a":3,"b":3.9,"v":13},{"p":595,"a":3.9,"b":6.6,"v":16.5},{"p":595,"a":6.6,"b":7.7,"v":15},{"p":595,"a":7.7,"b":8.8,"v":12},{"p":595,"a":8.8,"b":10,"v":11},{"p":595,"a":10,"b":11,"v":9},{"p":595,"a":11,"b":14,"v":3.5},{"p":595,"a":14,"b":18,"v":2.6},{"p":595,"a":18,"b":20,"v":2},{"p":595,"a":20.5,"b":21.5,"v":4},
{"p":573,"a":-14.6,"b":-13,"v":4.5},{"p":573,"a":-13,"b":-11.5,"v":9},{"p":573,"a":-11.5,"b":-9,"v":13},{"p":573,"a":-9,"b":-7.5,"v":10},{"p":573,"a":-7.5,"b":-4,"v":4},{"p":573,"a":-4,"b":-1,"v":3.2},{"p":573,"a":-1,"b":2,"v":4.2},{"p":573,"a":2,"b":5,"v":8},{"p":573,"a":5,"b":7,"v":10.5},{"p":573,"a":7,"b":10,"v":7},{"p":573,"a":10,"b":14,"v":5},{"p":573,"a":14,"b":18,"v":4.3},{"p":573,"a":18,"b":21,"v":5.5},{"p":573,"a":21,"b":25,"v":3.5},
{"p":568,"a":-14,"b":-12,"v":3},{"p":568,"a":-12,"b":-7,"v":5},{"p":568,"a":-7,"b":-1,"v":2.6},{"p":568,"a":-1,"b":5.5,"v":4},{"p":568,"a":5.5,"b":9,"v":8},{"p":568,"a":9,"b":13,"v":5},{"p":568,"a":13,"b":17,"v":5.5},{"p":568,"a":17,"b":20,"v":3.2},
{"p":567,"a":-17,"b":-10,"v":2},{"p":567,"a":-10,"b":-6.5,"v":2.6},{"p":567,"a":-6.5,"b":-2,"v":4},{"p":567,"a":-2,"b":3.3,"v":4.8},{"p":567,"a":3.3,"b":6.6,"v":3.5},{"p":567,"a":6.6,"b":9.8,"v":7},{"p":567,"a":9.8,"b":10.8,"v":10},{"p":567,"a":10.8,"b":11.8,"v":13.5},{"p":567,"a":11.8,"b":16.3,"v":9},{"p":567,"a":16.3,"b":21.8,"v":4.5},
{"p":562,"a":-12,"b":-9.5,"v":3},{"p":562,"a":-9.5,"b":-7.5,"v":11},{"p":562,"a":-7.5,"b":-6.5,"v":10},{"p":562,"a":-6.5,"b":-2,"v":8.5},{"p":562,"a":-2,"b":0,"v":5},{"p":562,"a":0,"b":3.3,"v":6.5},{"p":562,"a":3.3,"b":5,"v":11},{"p":562,"a":5,"b":6.5,"v":12},{"p":562,"a":6.5,"b":8.2,"v":11},{"p":562,"a":8.2,"b":11,"v":4.5},{"p":562,"a":11,"b":15,"v":4.8},{"p":562,"a":15,"b":16.5,"v":7},{"p":562,"a":16.5,"b":18,"v":11},{"p":562,"a":18,"b":22,"v":5},{"p":562,"a":22,"b":25,"v":3},
{"p":551,"a":-9.7,"b":-7.5,"v":2.8},{"p":551,"a":-7.5,"b":-3.7,"v":4.5},{"p":551,"a":-3.7,"b":2.8,"v":3.3},{"p":551,"a":2.8,"b":7,"v":5},{"p":551,"a":7,"b":10.9,"v":4.5},{"p":551,"a":10.9,"b":13,"v":7},{"p":551,"a":13,"b":16.3,"v":3.8},
{"p":549,"a":-10.8,"b":-3.2,"v":3},{"p":549,"a":-3.2,"b":0,"v":5.5},{"p":549,"a":0,"b":3.3,"v":7},{"p":549,"a":3.3,"b":5.5,"v":4.5},{"p":549,"a":5.5,"b":8.2,"v":7.5},{"p":549,"a":8.2,"b":10.4,"v":9.5},{"p":549,"a":10.4,"b":12.9,"v":4.5},{"p":549,"a":12.9,"b":16.3,"v":3},
{"p":547,"a":-9.2,"b":-5.9,"v":2.4},{"p":547,"a":-5.9,"b":-4.8,"v":6.5},{"p":547,"a":-4.8,"b":-3.7,"v":12},{"p":547,"a":-3.7,"b":-1,"v":16.5},{"p":547,"a":-1,"b":0,"v":14.5},{"p":547,"a":0,"b":1.1,"v":11},{"p":547,"a":1.1,"b":2.5,"v":7},{"p":547,"a":2.5,"b":4.4,"v":4.5},
{"p":545,"a":-10,"b":-6.5,"v":2.4},{"p":545,"a":-6.5,"b":-0.5,"v":4},{"p":545,"a":-0.5,"b":0.6,"v":8.5},{"p":545,"a":0.6,"b":4.4,"v":4.5},{"p":545,"a":4.4,"b":6.6,"v":2.6},{"p":545,"a":6.6,"b":14.4,"v":6.5},{"p":545,"a":14.4,"b":15.2,"v":10},{"p":545,"a":15.2,"b":19.4,"v":5},
{"p":542,"a":-11.3,"b":-4.8,"v":3},{"p":542,"a":-4.8,"b":-2.7,"v":5},{"p":542,"a":-2.7,"b":-1.5,"v":11.5},{"p":542,"a":-1.5,"b":0.3,"v":9.5},{"p":542,"a":0.3,"b":5.5,"v":5},{"p":542,"a":5.5,"b":11.5,"v":7},{"p":542,"a":11.5,"b":13.6,"v":11},{"p":542,"a":13.6,"b":18,"v":8},{"p":542,"a":18,"b":20,"v":9.5},{"p":542,"a":20,"b":21.8,"v":4.5},{"p":542,"a":21.8,"b":24,"v":2.6},
{"p":534,"a":-19.5,"b":-15,"v":2.6},{"p":534,"a":-15,"b":-5.4,"v":3.8},{"p":534,"a":-5.4,"b":0,"v":2.2},{"p":534,"a":0,"b":3.9,"v":4.6},{"p":534,"a":3.9,"b":12,"v":5.8},{"p":534,"a":12,"b":13,"v":8},{"p":534,"a":13,"b":20.7,"v":5},{"p":534,"a":20.7,"b":26,"v":3.2},
{"p":532,"a":-1.3,"b":2.2,"v":5},{"p":532,"a":2.2,"b":5.5,"v":9.5},{"p":532,"a":5.5,"b":7.1,"v":11},{"p":532,"a":7.1,"b":9,"v":13},{"p":532,"a":9,"b":10.9,"v":11},{"p":532,"a":10.9,"b":12,"v":4.5},
{"p":530,"a":-16.2,"b":-11.9,"v":3},{"p":530,"a":-11.9,"b":-2.7,"v":4.8},{"p":530,"a":-2.7,"b":-1.2,"v":12.5},{"p":530,"a":-1.2,"b":1.1,"v":9},{"p":530,"a":1.1,"b":11.5,"v":5.5},{"p":530,"a":11.5,"b":14,"v":7.5},{"p":530,"a":14,"b":17.4,"v":9},{"p":530,"a":17.4,"b":21.8,"v":4.5},
{"p":513,"a":-13.5,"b":-9.7,"v":2.4},{"p":513,"a":-9.7,"b":2.2,"v":3.8},{"p":513,"a":2.2,"b":4.4,"v":3},{"p":513,"a":4.4,"b":9.8,"v":4.8},{"p":513,"a":9.8,"b":15,"v":3},{"p":513,"a":15,"b":25,"v":3.8},{"p":513,"a":25,"b":31.5,"v":2.5},
{"p":510,"a":-13.5,"b":-5.4,"v":3.8},{"p":510,"a":-5.4,"b":-3.2,"v":2},{"p":510,"a":-3.2,"b":-1.6,"v":8},{"p":510,"a":-1.6,"b":6.6,"v":4.5},{"p":510,"a":6.6,"b":12.5,"v":2.4},{"p":510,"a":12.5,"b":13.6,"v":11},{"p":510,"a":13.6,"b":15.8,"v":15.5},{"p":510,"a":15.8,"b":17.4,"v":12},{"p":510,"a":17.4,"b":19,"v":10},{"p":510,"a":19,"b":21.8,"v":6.5},{"p":510,"a":21.8,"b":24.5,"v":4},{"p":510,"a":24.5,"b":33.7,"v":2.6}
]},
"mark":{"type":"rule","strokeWidth":6.4},
"encoding":{
"x":{"field":"a","type":"quantitative","title":"Longitude ( ° )","scale":{"domain":[-62.5,76.2],"nice":false,"zero":false},
"axis":{"values":[-60,-50,-40,-30,-20,-10,0,10,20,30,40,50,60,70],"labelExpr":"datum.value % 50 === 0 ? datum.label : ''","labelOverlap":false,"tickSize":{"condition":{"test":"datum.value % 50 === 0","value":7},"value":4},"tickWidth":{"condition":{"test":"datum.value % 50 === 0","value":1.6},"value":1.2},"labelPadding":6,"titlePadding":9,"titleX":226}},
"x2":{"field":"b"},
"y":{"field":"p","type":"quantitative","title":"No. Pulse","scale":{"domain":[500.5,599.5],"nice":false,"zero":false},
"axis":{"orient":"left","values":[505,510,515,520,525,530,535,540,545,550,555,560,565,570,575,580,585,590,595],"labelExpr":"datum.value % 20 === 0 ? datum.label : ''","labelOverlap":false,"labelAngle":-90,"labelAlign":"center","labelBaseline":"bottom","tickSize":{"condition":{"test":"datum.value % 20 === 0","value":7},"value":4},"tickWidth":{"condition":{"test":"datum.value % 20 === 0","value":1.6},"value":1.2},"labelPadding":8,"titleFontSize":30,"titleBaseline":"alphabetic","titleX":-57,"format":"d"}},
"color":{"field":"v","type":"quantitative","legend":null,"scale":{"domain":[-3.1,-0.6,-0.2,3.67,4.36,9.64,10.03,14.61,15.01,16.8],"range":["#000080","#0000ff","#0000ff","#00dbff","#14ffe2","#eeff08","#ffec00","#ff1200","#e80000","#800000"],"interpolate":"rgb"}}}}
]},
{"width":29,"height":620,"view":{"fill":"#a0589a"},
"layer":[
{"data":{"values":[{"p":599,"s":"off"},{"p":598,"s":"off"},{"p":597,"s":"off"},{"p":596,"s":"off"},{"p":595,"s":"on"},{"p":594,"s":"off"},{"p":593,"s":"off"},{"p":592,"s":"off"},{"p":591,"s":"off"},{"p":590,"s":"off"},{"p":589,"s":"off"},{"p":588,"s":"off"},{"p":587,"s":"off"},{"p":586,"s":"off"},{"p":585,"s":"off"},{"p":584,"s":"off"},{"p":583,"s":"off"},{"p":582,"s":"off"},{"p":581,"s":"off"},{"p":580,"s":"off"},{"p":579,"s":"off"},{"p":578,"s":"off"},{"p":577,"s":"off"},{"p":576,"s":"off"},{"p":575,"s":"off"},{"p":574,"s":"off"},{"p":573,"s":"on"},{"p":572,"s":"off"},{"p":571,"s":"off"},{"p":570,"s":"off"},{"p":569,"s":"off"},{"p":568,"s":"on"},{"p":567,"s":"on"},{"p":566,"s":"off"},{"p":565,"s":"off"},{"p":564,"s":"off"},{"p":563,"s":"off"},{"p":562,"s":"on"},{"p":561,"s":"off"},{"p":560,"s":"off"},{"p":559,"s":"off"},{"p":558,"s":"off"},{"p":557,"s":"off"},{"p":556,"s":"off"},{"p":555,"s":"off"},{"p":554,"s":"off"},{"p":553,"s":"off"},{"p":552,"s":"off"},{"p":551,"s":"on"},{"p":550,"s":"off"},{"p":549,"s":"on"},{"p":548,"s":"off"},{"p":547,"s":"on"},{"p":546,"s":"off"},{"p":545,"s":"on"},{"p":544,"s":"off"},{"p":543,"s":"off"},{"p":542,"s":"on"},{"p":541,"s":"off"},{"p":540,"s":"off"},{"p":539,"s":"off"},{"p":538,"s":"off"},{"p":537,"s":"off"},{"p":536,"s":"off"},{"p":535,"s":"off"},{"p":534,"s":"on"},{"p":533,"s":"off"},{"p":532,"s":"on"},{"p":531,"s":"off"},{"p":530,"s":"on"},{"p":529,"s":"off"},{"p":528,"s":"off"},{"p":527,"s":"off"},{"p":526,"s":"off"},{"p":525,"s":"off"},{"p":524,"s":"off"},{"p":523,"s":"off"},{"p":522,"s":"off"},{"p":521,"s":"off"},{"p":520,"s":"off"},{"p":519,"s":"off"},{"p":518,"s":"off"},{"p":517,"s":"off"},{"p":516,"s":"off"},{"p":515,"s":"off"},{"p":514,"s":"off"},{"p":513,"s":"on"},{"p":512,"s":"off"},{"p":511,"s":"off"},{"p":510,"s":"on"},{"p":509,"s":"off"},{"p":508,"s":"off"},{"p":507,"s":"off"},{"p":506,"s":"off"},{"p":505,"s":"off"},{"p":504,"s":"off"},{"p":503,"s":"off"},{"p":502,"s":"off"},{"p":501,"s":"off"}]},
"mark":{"type":"rule","strokeWidth":6.05},
"encoding":{
"y":{"field":"p","type":"quantitative","scale":{"domain":[500.5,599.5],"nice":false,"zero":false},"axis":null},
"color":{"field":"s","type":"nominal","legend":null,"scale":{"domain":["off","on"],"range":["#b060a9","#669f66"]}}}},
{"data":{"values":[{"t":80}]},
"mark":{"type":"rule","opacity":0},
"encoding":{"x":{"field":"t","type":"quantitative","title":null,"scale":{"domain":[76.2,85.6],"nice":false,"zero":false},"axis":{"values":[80],"labels":false,"tickSize":4,"tickWidth":1.2}}}}
]},
{"width":197,"height":620,
"layer":[
{"data":{"values":[{"p":599,"v":0.82},{"p":598,"v":0.21},{"p":597,"v":-0.24},{"p":596,"v":1.88},{"p":595,"v":10.73},{"p":594,"v":0.82},{"p":593,"v":0.76},{"p":592,"v":1.88},{"p":591,"v":3.03},{"p":590,"v":0.3},{"p":589,"v":1.12},{"p":588,"v":0.36},{"p":587,"v":0.42},{"p":586,"v":1.27},{"p":585,"v":1.76},{"p":584,"v":-0.85},{"p":583,"v":0.52},{"p":582,"v":-0.55},{"p":581,"v":2.18},{"p":580,"v":2.88},{"p":579,"v":2.18},{"p":578,"v":1.48},{"p":577,"v":-0.09},{"p":576,"v":0.21},{"p":575,"v":1.48},{"p":574,"v":0.58},{"p":573,"v":10.0},{"p":572,"v":1.73},{"p":571,"v":-1.06},{"p":570,"v":2.33},{"p":569,"v":1.67},{"p":568,"v":7.64},{"p":567,"v":8.18},{"p":566,"v":1.42},{"p":565,"v":0.97},{"p":564,"v":0.42},{"p":563,"v":1.06},{"p":562,"v":11.73},{"p":561,"v":1.36},{"p":560,"v":-1.73},{"p":559,"v":-0.7},{"p":558,"v":0.67},{"p":557,"v":1.36},{"p":556,"v":2.48},{"p":555,"v":1.12},{"p":554,"v":0.3},{"p":553,"v":1.36},{"p":552,"v":0.58},{"p":551,"v":5.67},{"p":550,"v":-0.15},{"p":549,"v":6.58},{"p":548,"v":0.82},{"p":547,"v":7.33},{"p":546,"v":1.42},{"p":545,"v":7.03},{"p":544,"v":-0.03},{"p":543,"v":1.27},{"p":542,"v":11.88},{"p":541,"v":2.79},{"p":540,"v":0.21},{"p":539,"v":1.27},{"p":538,"v":0.82},{"p":537,"v":0.27},{"p":536,"v":2.33},{"p":535,"v":0.45},{"p":534,"v":8.94},{"p":533,"v":0.91},{"p":532,"v":7.42},{"p":531,"v":2.18},{"p":530,"v":11.42},{"p":529,"v":1.12},{"p":528,"v":-2.09},{"p":527,"v":-0.76},{"p":526,"v":-1.61},{"p":525,"v":-1.36},{"p":524,"v":0.82},{"p":523,"v":1.67},{"p":522,"v":0.76},{"p":521,"v":-0.09},{"p":520,"v":-0.15},{"p":519,"v":-0.03},{"p":518,"v":0.76},{"p":517,"v":0.97},{"p":516,"v":1.58},{"p":515,"v":-0.64},{"p":514,"v":2.18},{"p":513,"v":6.88},{"p":512,"v":-0.03},{"p":511,"v":2.64},{"p":510,"v":9.24},{"p":509,"v":-0.39},{"p":508,"v":-0.39},{"p":507,"v":0.91},{"p":506,"v":0.45},{"p":505,"v":1.79},{"p":504,"v":1.58},{"p":503,"v":-0.09},{"p":502,"v":0.82},{"p":501,"v":1.67}]},
"mark":{"type":"line","color":"black","strokeWidth":2.5},
"encoding":{
"x":{"field":"v","type":"quantitative","title":null,"scale":{"domain":[-4.7,13.2],"nice":false,"zero":false},"axis":{"values":[0,10],"format":"d","tickSize":7,"tickWidth":1.6,"labelPadding":6}},
"y":{"field":"p","type":"quantitative","scale":{"domain":[500.5,599.5],"nice":false,"zero":false},"axis":null},
"order":{"field":"p"}}},
{"data":{"values":[{"t":4.5}]},
"mark":{"type":"rule","color":"#ff0000","strokeWidth":2.4,"strokeDash":[9,4.5]},
"encoding":{"x":{"field":"t","type":"quantitative"}}},
{"data":{"values":[{"t":"I/σ","x":1.27,"p":489.0}]},
"mark":{"type":"text","align":"left","baseline":"alphabetic","fontSize":29,"fontStyle":"italic"},
"encoding":{"x":{"field":"x","type":"quantitative"},"y":{"field":"p","type":"quantitative"},"text":{"field":"t"}}},
{"data":{"values":[{"t":"off","x":4.64,"p":488.3}]},
"mark":{"type":"text","align":"left","baseline":"alphabetic","fontSize":21,"fontStyle":"italic"},
"encoding":{"x":{"field":"x","type":"quantitative"},"y":{"field":"p","type":"quantitative"},"text":{"field":"t"}}}
]},
{"width":29,"height":620,
"layer":[
{"data":{"values":[{"c":-3.0},{"c":-2.75},{"c":-2.5},{"c":-2.25},{"c":-2.0},{"c":-1.75},{"c":-1.5},{"c":-1.25},{"c":-1.0},{"c":-0.75},{"c":-0.5},{"c":-0.25},{"c":0},{"c":0.25},{"c":0.5},{"c":0.75},{"c":1},{"c":1.25},{"c":1.5},{"c":1.75},{"c":2},{"c":2.25},{"c":2.5},{"c":2.75},{"c":3},{"c":3.25},{"c":3.5},{"c":3.75},{"c":4},{"c":4.25},{"c":4.5},{"c":4.75},{"c":5},{"c":5.25},{"c":5.5},{"c":5.75},{"c":6},{"c":6.25},{"c":6.5},{"c":6.75},{"c":7},{"c":7.25},{"c":7.5},{"c":7.75},{"c":8},{"c":8.25},{"c":8.5},{"c":8.75},{"c":9},{"c":9.25},{"c":9.5},{"c":9.75},{"c":10},{"c":10.25},{"c":10.5},{"c":10.75},{"c":11},{"c":11.25},{"c":11.5},{"c":11.75},{"c":12},{"c":12.25},{"c":12.5},{"c":12.75},{"c":13},{"c":13.25},{"c":13.5},{"c":13.75},{"c":14},{"c":14.25},{"c":14.5},{"c":14.75},{"c":15},{"c":15.25},{"c":15.5},{"c":15.75},{"c":16},{"c":16.25},{"c":16.5},{"c":16.75}]},
"mark":{"type":"rule","strokeWidth":8.2},
"encoding":{
"y":{"field":"c","type":"quantitative","title":null,"scale":{"domain":[-3.1,16.8],"nice":false,"zero":false},"axis":{"orient":"right","values":[0,4,8,12,16],"format":"d","labelAngle":-90,"labelAlign":"center","labelBaseline":"top","tickSize":7,"tickWidth":1.6,"labelPadding":5}},
"color":{"field":"c","type":"quantitative","legend":null,"scale":{"domain":[-3.1,-0.91,-0.61,3.67,4.36,9.64,10.03,14.61,15.01,16.8],"range":["#000080","#0000ff","#0000ff","#00dbff","#14ffe2","#eeff08","#ffec00","#ff1200","#e80000","#800000"],"interpolate":"rgb"}}}},
{"data":{"values":[{"t":"I/σ","x":-0.03,"c":17.07}]},
"mark":{"type":"text","align":"left","baseline":"alphabetic","fontSize":29,"fontStyle":"italic"},
"encoding":{"x":{"field":"x","type":"quantitative","scale":{"domain":[0,1]},"axis":null},"y":{"field":"c","type":"quantitative"},"text":{"field":"t"}}},
{"data":{"values":[{"t":"off","x":1.24,"c":16.94}]},
"mark":{"type":"text","align":"left","baseline":"alphabetic","fontSize":21,"fontStyle":"italic"},
"encoding":{"x":{"field":"x","type":"quantitative","scale":{"domain":[0,1]},"axis":null},"y":{"field":"c","type":"quantitative"},"text":{"field":"t"}}}
]}
]
}
